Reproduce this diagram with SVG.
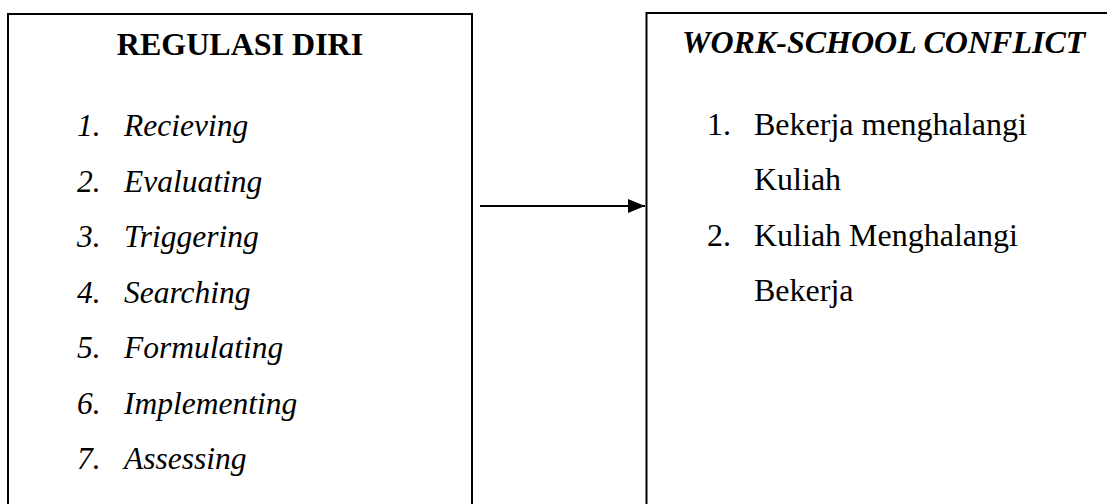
<svg xmlns="http://www.w3.org/2000/svg" width="1107" height="504" viewBox="0 0 1107 504">
<style>
.box{fill:#fff;stroke:#000;stroke-width:2}
.t{font-family:"Liberation Serif","Times New Roman",serif;fill:#000}
.h{font-size:32px;font-weight:bold}
.li{font-size:31.5px;font-style:italic}
.r{font-size:32px}
</style>
<defs>
<marker id="ah" markerWidth="17" markerHeight="14" refX="17" refY="7" orient="auto" markerUnits="userSpaceOnUse">
<path d="M0,0 L17,7 L0,14 Z" fill="#000"/>
</marker>
</defs>
<rect width="1107" height="504" fill="#fff"/>
<g id="regulasi-diri">
<rect class="box" x="8" y="14" width="464" height="500"/>
<text class="t h" x="240" y="55" text-anchor="middle">REGULASI DIRI</text>
<g class="t li">
<text x="77" y="136">1.</text><text x="124" y="136">Recieving</text>
<text x="77" y="191.5">2.</text><text x="124" y="191.5">Evaluating</text>
<text x="77" y="247">3.</text><text x="124" y="247">Triggering</text>
<text x="77" y="302.5">4.</text><text x="124" y="302.5">Searching</text>
<text x="77" y="358">5.</text><text x="124" y="358">Formulating</text>
<text x="77" y="413.5">6.</text><text x="124" y="413.5">Implementing</text>
<text x="77" y="469">7.</text><text x="124" y="469">Assessing</text>
</g>
</g>
<g id="work-school-conflict">
<rect class="box" x="646.5" y="13" width="470" height="500"/>
<text class="t h" x="682" y="53" font-style="italic">WORK-SCHOOL CONFLICT</text>
<g class="t r">
<text x="707" y="135">1.</text><text x="754" y="135">Bekerja menghalangi</text>
<text x="754" y="190">Kuliah</text>
<text x="707" y="245.5">2.</text><text x="754" y="245.5">Kuliah Menghalangi</text>
<text x="754" y="301">Bekerja</text>
</g>
</g>
<g id="connectors">
<line x1="480" y1="206" x2="645" y2="206" stroke="#000" stroke-width="2" marker-end="url(#ah)"/>
</g>
</svg>
